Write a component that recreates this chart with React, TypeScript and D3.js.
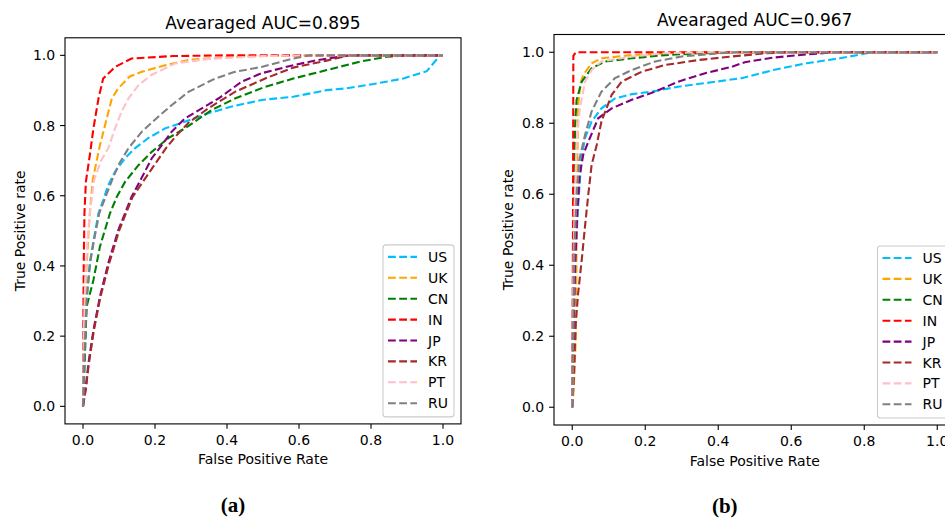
import React from 'react';
import * as d3 from 'd3';

type Pt = [number, number];

// legend order / colours
const countries = ['US', 'UK', 'CN', 'IN', 'JP', 'KR', 'PT', 'RU'];
const colors = ['#00bfff', '#ffa500', '#008000', '#ff0000', '#800080', '#a52a2a', '#ffc0cb', '#808080'];
const ticks = [0, 0.2, 0.4, 0.6, 0.8, 1.0];

// panel (a) ROC curves, [fpr, tpr]
const rocA_US: Pt[] = [[0, 0], [0.001, 0.02], [0.006, 0.17], [0.01, 0.31], [0.019, 0.41], [0.029, 0.47], [0.043, 0.55], [0.057, 0.59], [0.07, 0.63], [0.089, 0.668], [0.117, 0.707], [0.144, 0.735], [0.181, 0.764], [0.228, 0.792], [0.283, 0.811], [0.348, 0.835], [0.413, 0.854], [0.496, 0.873], [0.584, 0.882], [0.677, 0.901], [0.732, 0.906], [0.816, 0.92], [0.89, 0.934], [0.955, 0.955], [0.992, 1], [1, 1]];
const rocA_UK: Pt[] = [[0, 0], [0.003, 0.15], [0.006, 0.285], [0.008, 0.36], [0.013, 0.455], [0.019, 0.55], [0.027, 0.645], [0.047, 0.744], [0.066, 0.82], [0.08, 0.877], [0.098, 0.906], [0.13, 0.94], [0.163, 0.953], [0.228, 0.972], [0.3, 0.988], [0.45, 0.997], [0.6, 1], [1, 1]];
const rocA_CN: Pt[] = [[0, 0], [0.006, 0.17], [0.01, 0.284], [0.029, 0.36], [0.047, 0.455], [0.075, 0.55], [0.094, 0.597], [0.117, 0.64], [0.154, 0.687], [0.191, 0.725], [0.237, 0.764], [0.283, 0.792], [0.357, 0.844], [0.422, 0.877], [0.5, 0.908], [0.584, 0.934], [0.677, 0.958], [0.769, 0.982], [0.844, 0.996], [0.9, 1], [1, 1]];
const rocA_IN: Pt[] = [[0, 0], [0.001, 0.25], [0.002, 0.4], [0.004, 0.55], [0.008, 0.64], [0.019, 0.716], [0.029, 0.792], [0.043, 0.877], [0.056, 0.934], [0.089, 0.967], [0.135, 0.991], [0.25, 0.998], [0.4, 1], [1, 1]];
const rocA_JP: Pt[] = [[0, 0], [0.008, 0.056], [0.015, 0.122], [0.029, 0.217], [0.047, 0.312], [0.07, 0.407], [0.098, 0.502], [0.135, 0.597], [0.16, 0.645], [0.191, 0.707], [0.219, 0.744], [0.246, 0.782], [0.283, 0.82], [0.33, 0.849], [0.376, 0.877], [0.441, 0.925], [0.496, 0.949], [0.584, 0.972], [0.649, 0.986], [0.74, 1], [1, 1]];
const rocA_KR: Pt[] = [[0, 0], [0.008, 0.05], [0.016, 0.12], [0.03, 0.215], [0.048, 0.31], [0.072, 0.405], [0.1, 0.5], [0.137, 0.595], [0.163, 0.635], [0.2, 0.69], [0.23, 0.735], [0.26, 0.772], [0.293, 0.808], [0.348, 0.849], [0.422, 0.896], [0.506, 0.934], [0.584, 0.965], [0.677, 0.985], [0.74, 1], [1, 1]];
const rocA_PT: Pt[] = [[0, 0], [0.002, 0.2], [0.006, 0.35], [0.012, 0.47], [0.02, 0.56], [0.031, 0.645], [0.05, 0.7], [0.07, 0.735], [0.089, 0.792], [0.107, 0.839], [0.126, 0.877], [0.154, 0.915], [0.19, 0.944], [0.256, 0.977], [0.35, 0.99], [0.5, 0.998], [0.65, 1], [1, 1]];
const rocA_RU: Pt[] = [[0, 0], [0.002, 0.1], [0.006, 0.2], [0.01, 0.3], [0.02, 0.41], [0.03, 0.47], [0.045, 0.55], [0.06, 0.59], [0.081, 0.645], [0.098, 0.687], [0.126, 0.735], [0.163, 0.782], [0.209, 0.825], [0.246, 0.858], [0.293, 0.896], [0.367, 0.934], [0.422, 0.953], [0.496, 0.967], [0.584, 0.991], [0.63, 1], [1, 1]];

// panel (b) ROC curves
const rocB_US: Pt[] = [[0, 0], [0.003, 0.2], [0.008, 0.4], [0.015, 0.55], [0.025, 0.7], [0.035, 0.758], [0.053, 0.805], [0.08, 0.842], [0.117, 0.87], [0.163, 0.882], [0.218, 0.889], [0.29, 0.903], [0.364, 0.913], [0.464, 0.927], [0.551, 0.95], [0.642, 0.969], [0.733, 0.983], [0.807, 0.997], [0.82, 1], [1, 1]];
const rocB_UK: Pt[] = [[0, 0], [0.004, 0.05], [0.01, 0.2], [0.012, 0.5], [0.014, 0.7], [0.016, 0.85], [0.022, 0.91], [0.03, 0.936], [0.053, 0.969], [0.08, 0.983], [0.163, 0.992], [0.3, 0.999], [0.4, 1], [1, 1]];
const rocB_CN: Pt[] = [[0, 0], [0.002, 0.3], [0.005, 0.6], [0.008, 0.8], [0.012, 0.866], [0.026, 0.917], [0.053, 0.955], [0.09, 0.974], [0.163, 0.983], [0.254, 0.992], [0.345, 0.997], [0.45, 1], [1, 1]];
const rocB_IN: Pt[] = [[0, 0], [0.002, 0.5], [0.003, 0.99], [0.01, 1], [1, 1]];
const rocB_JP: Pt[] = [[0, 0], [0.003, 0.2], [0.008, 0.4], [0.014, 0.55], [0.02, 0.65], [0.03, 0.711], [0.044, 0.748], [0.071, 0.814], [0.108, 0.842], [0.163, 0.866], [0.227, 0.889], [0.29, 0.917], [0.364, 0.941], [0.437, 0.959], [0.473, 0.972], [0.551, 0.985], [0.642, 0.994], [0.72, 1], [1, 1]];
const rocB_KR: Pt[] = [[0, 0], [0.005, 0.1], [0.009, 0.227], [0.016, 0.32], [0.026, 0.415], [0.035, 0.51], [0.044, 0.6], [0.053, 0.682], [0.067, 0.739], [0.08, 0.805], [0.108, 0.88], [0.135, 0.917], [0.19, 0.945], [0.254, 0.964], [0.345, 0.978], [0.437, 0.988], [0.53, 0.997], [0.6, 1], [1, 1]];
const rocB_PT: Pt[] = [[0, 0], [0.002, 0.3], [0.006, 0.55], [0.012, 0.75], [0.021, 0.842], [0.035, 0.917], [0.053, 0.95], [0.08, 0.974], [0.163, 0.988], [0.25, 0.997], [0.35, 1], [1, 1]];
const rocB_RU: Pt[] = [[0, 0], [0.002, 0.2], [0.006, 0.45], [0.012, 0.6], [0.02, 0.7], [0.035, 0.767], [0.053, 0.833], [0.08, 0.889], [0.117, 0.927], [0.163, 0.95], [0.227, 0.974], [0.3, 0.988], [0.39, 0.996], [0.45, 1], [1, 1]];

const curvesA = [rocA_US, rocA_UK, rocA_CN, rocA_IN, rocA_JP, rocA_KR, rocA_PT, rocA_RU];
const curvesB = [rocB_US, rocB_UK, rocB_CN, rocB_IN, rocB_JP, rocB_KR, rocB_PT, rocB_RU];

const FONT = 'DejaVu Sans, sans-serif';

interface PanelProps {
  title: string;
  caption: string;
  curves: Pt[][];
  left: number;
  right: number;
  top: number;
  bottom: number;
  ylabelX: number;
  captionY: number;
}

const Panel = ({ title, caption, curves, left, right, top, bottom, ylabelX, captionY }: PanelProps) => {
  const x = d3.scaleLinear().domain([-0.05, 1.05]).range([left, right]);
  const y = d3.scaleLinear().domain([-0.05, 1.05]).range([bottom, top]);
  const line = d3.line<Pt>().x(d => x(d[0])).y(d => y(d[1]));
  const fmt = d3.format('.1f');
  const cx = (left + right) / 2;

  // legend placed lower right, matplotlib style
  const legW = 71;
  const legH = 172;
  const legX = right - 7 - legW;
  const legY = bottom - 7 - legH;
  const rowH = 20.9;

  return (
    <g>
      <text x={cx} y={top - 8.4} textAnchor="middle" fontSize={17} fontFamily={FONT}>
        {title}
      </text>
      <g>
        {curves.map((c, i) => (
          <path
            key={i}
            d={line(c) || ''}
            fill="none"
            stroke={colors[i]}
            strokeWidth={2.1}
            strokeDasharray="7.8 3.4"
          />
        ))}
      </g>
      <rect x={left} y={top} width={right - left} height={bottom - top} fill="none" stroke="#000" strokeWidth={1.1} />
      {ticks.map(t => (
        <g key={'x' + t}>
          <line x1={x(t)} x2={x(t)} y1={bottom} y2={bottom + 4.9} stroke="#000" strokeWidth={1.1} />
          <text x={x(t)} y={bottom + 20.6} textAnchor="middle" fontSize={14} fontFamily={FONT}>
            {fmt(t)}
          </text>
        </g>
      ))}
      {ticks.map(t => (
        <g key={'y' + t}>
          <line x1={left - 4.9} x2={left} y1={y(t)} y2={y(t)} stroke="#000" strokeWidth={1.1} />
          <text x={left - 9.8} y={y(t) + 5.1} textAnchor="end" fontSize={14} fontFamily={FONT}>
            {fmt(t)}
          </text>
        </g>
      ))}
      <text x={cx} y={bottom + 40.5} textAnchor="middle" fontSize={14} fontFamily={FONT}>
        False Positive Rate
      </text>
      <text
        transform={`translate(${ylabelX},${(top + bottom) / 2}) rotate(-90)`}
        textAnchor="middle"
        fontSize={14}
        fontFamily={FONT}
      >
        True Positive rate
      </text>
      <rect x={legX} y={legY} width={legW} height={legH} rx={3} fill="#fff" fillOpacity={0.8} stroke="#cccccc" strokeWidth={1.1} />
      {countries.map((c, i) => {
        const ry = legY + 12 + i * rowH;
        return (
          <g key={c}>
            <line x1={legX + 5} x2={legX + 34} y1={ry} y2={ry} stroke={colors[i]} strokeWidth={2.1} strokeDasharray="7.8 3.4" />
            <text x={legX + 45} y={ry + 5} fontSize={14} fontFamily={FONT}>
              {c}
            </text>
          </g>
        );
      })}
      <text x={cx - 30} y={captionY} textAnchor="middle" fontSize={21} fontWeight="bold" fontFamily="Liberation Serif, serif">
        {caption}
      </text>
    </g>
  );
};

export default function App() {
  return (
    <svg
      width={945}
      height={519}
      style={{ position: 'absolute', left: 0, top: 0, background: '#fff', overflow: 'hidden' }}
    >
      <Panel
        title="Avearaged AUC=0.895"
        caption="(a)"
        curves={curvesA}
        left={65}
        right={461}
        top={37.8}
        bottom={423.9}
        ylabelX={24.5}
        captionY={511.5}
      />
      <Panel
        title="Avearaged AUC=0.967"
        caption="(b)"
        curves={curvesB}
        left={554}
        right={955.5}
        top={34.5}
        bottom={425}
        ylabelX={513}
        captionY={513}
      />
    </svg>
  );
}
